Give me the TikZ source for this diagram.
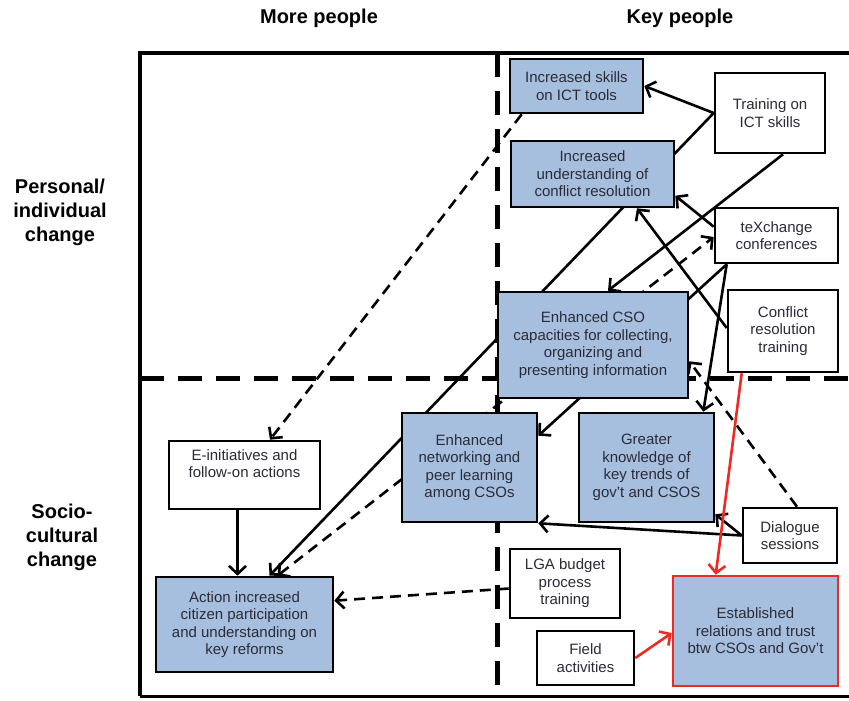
\documentclass[tikz,border=0pt]{standalone}
\usepackage{fontspec}
\setmainfont{Liberation Sans}
\usetikzlibrary{arrows.meta,calc}
\definecolor{boxblue}{HTML}{A7BFDE}
\definecolor{linered}{HTML}{EE2A24}
\definecolor{boxtext}{HTML}{2B2B38}
\pgfdeclarelayer{background}
\pgfsetlayers{background,main}
\begin{document}
\begin{tikzpicture}[x=1pt,y=-1pt,
  basebox/.style={draw=black, line width=2.6pt, align=center, inner sep=2pt, text=boxtext, font=\fontsize{15}{17.5}\selectfont},
  bluebox/.style={basebox, fill=boxblue},
  whitebox/.style={basebox, fill=white},
  redbox/.style={basebox, fill=boxblue, draw=linered},
  tipb/.tip={Straight Barb[length=8pt,width=17pt]},
  conn/.style={line width=2.6pt, -tipb},
  dconn/.style={conn, dash pattern=on 11pt off 7pt},
  rconn/.style={conn, draw=linered},
  framel/.style={line width=4.5pt, black},
  divider/.style={line width=5pt, black, dash pattern=on 24pt off 14pt},
  headtxt/.style={font=\bfseries\fontsize{20}{24}\selectfont, align=center, text=black}
]
\useasboundingbox (0,0) rectangle (849,701);

% headers
\node[headtxt] (hmore) at (319,18) {More people};
\node[headtxt] (hkey) at (680,18) {Key people};
\node[headtxt] (hpers) at (60,212) {Personal/\\individual\\change};
\node[headtxt] (hsoc) at (62,537) {Socio-\\cultural\\change};

% boxes
\node[bluebox, minimum width=133, minimum height=54] (icttools) at (576.5,86) {Increased skills\\on ICT tools};
\node[whitebox, minimum width=110, minimum height=80] (trainict) at (770,113) {Training on\\ICT skills};
\node[bluebox, minimum width=163, minimum height=66] (conflictu) at (592.5,174) {Increased\\understanding of\\conflict resolution};
\node[whitebox, minimum width=123, minimum height=55] (texch) at (776.5,235.5) {teXchange\\conferences};
\node[whitebox, minimum width=110, minimum height=82] (conflictt) at (783,331) {Conflict\\resolution\\training};
\node[bluebox, minimum width=190, minimum height=106] (cso) at (593,345) {Enhanced CSO\\capacities for collecting,\\organizing and\\presenting information};
\node[bluebox, minimum width=135, minimum height=109] (network) at (469.5,467.5) {Enhanced\\networking and\\peer learning\\among CSOs};
\node[bluebox, minimum width=135, minimum height=109] (greater) at (646.5,467.5) {Greater\\knowledge of\\key trends of\\gov't and CSOS};
\node[whitebox, minimum width=94, minimum height=55] (dialogue) at (790,535.5) {Dialogue\\sessions};
\node[whitebox, minimum width=151, minimum height=68] (einit) at (244.5,475) {E-initiatives and\\follow-on actions\\[0pt]\strut};
\node[bluebox, minimum width=177, minimum height=95] (action) at (244.5,624.5) {Action increased\\citizen participation\\and understanding on\\key reforms};
\node[whitebox, minimum width=110, minimum height=69] (lga) at (565,583.5) {LGA budget\\process\\training};
\node[whitebox, minimum width=97, minimum height=54] (field) at (585.5,658) {Field\\activities};
\node[redbox, minimum width=165, minimum height=110] (estab) at (755.5,631) {Established\\relations and trust\\btw CSOs and Gov't};

\begin{pgfonlayer}{background}
  % frame
  \coordinate (ftl) at (140,53);
  \coordinate (ftr) at (849,53);
  \coordinate (fbl) at (140,696);
  \coordinate (fbr) at (849,696);
  \draw[framel] (ftr) -- (ftl) -- (fbl);
  \draw[line width=3pt] (fbl) -- (fbr);
  \coordinate (vtop) at (497,53);
  \coordinate (vbot) at (497,697);
  \coordinate (hl) at (140,378);
  \coordinate (hr) at (849,378);
  \draw[divider] (vtop) -- (vbot);
  \draw[divider] (hl) -- (hr);

  % connectors
  \draw[conn] (trainict.west) -- (icttools.east);
  \draw[conn] (trainict.west) -- ($(action.north)+(25,0)$);
  \draw[conn] ($(trainict.south)+(13,0)$) -- ($(cso.north)+(15,0)$);
  \draw[dconn, tipb-tipb] ($(action.north)+(33,0)$) -- ($(texch.west)+(0,1.5)$);
  \draw[conn] ($(texch.south west)+(13,0)$) -- ($(network.north east)+(0,24)$);
  \draw[conn] ($(texch.south west)+(13,0)$) -- ($(greater.north east)+(-12,0)$);
  \draw[conn] ($(texch.north west)+(0,20)$) -- ($(conflictu.north east)+(0,56)$);
  \draw[conn] ($(conflictt.west)+(0,-3)$) -- ($(conflictu.south)+(44.5,0)$);
  \draw[dconn] ($(dialogue.north)+(7,0)$) -- ($(cso.south east)+(0,-38)$);
  \draw[conn] (dialogue.west) -- (network.south east);
  \draw[conn] (dialogue.west) -- ($(greater.south east)+(0,-9)$);
  \draw[rconn] ($(conflictt.south west)+(15,0)$) -- ($(estab.north west)+(44,0)$);
  \draw[rconn] (field.east) -- ($(estab.west)+(0,2)$);
  \draw[dconn] ($(icttools.south west)+(13,0)$) -- ($(einit.north)+(25.5,0)$);
  \draw[conn] ($(einit.south)+(-7,0)$) -- ($(action.north)+(-7,0)$);
  \draw[dconn] ($(lga.west)+(0,5)$) -- ($(action.north east)+(0,25)$);
\end{pgfonlayer}
\end{tikzpicture}
\end{document}
